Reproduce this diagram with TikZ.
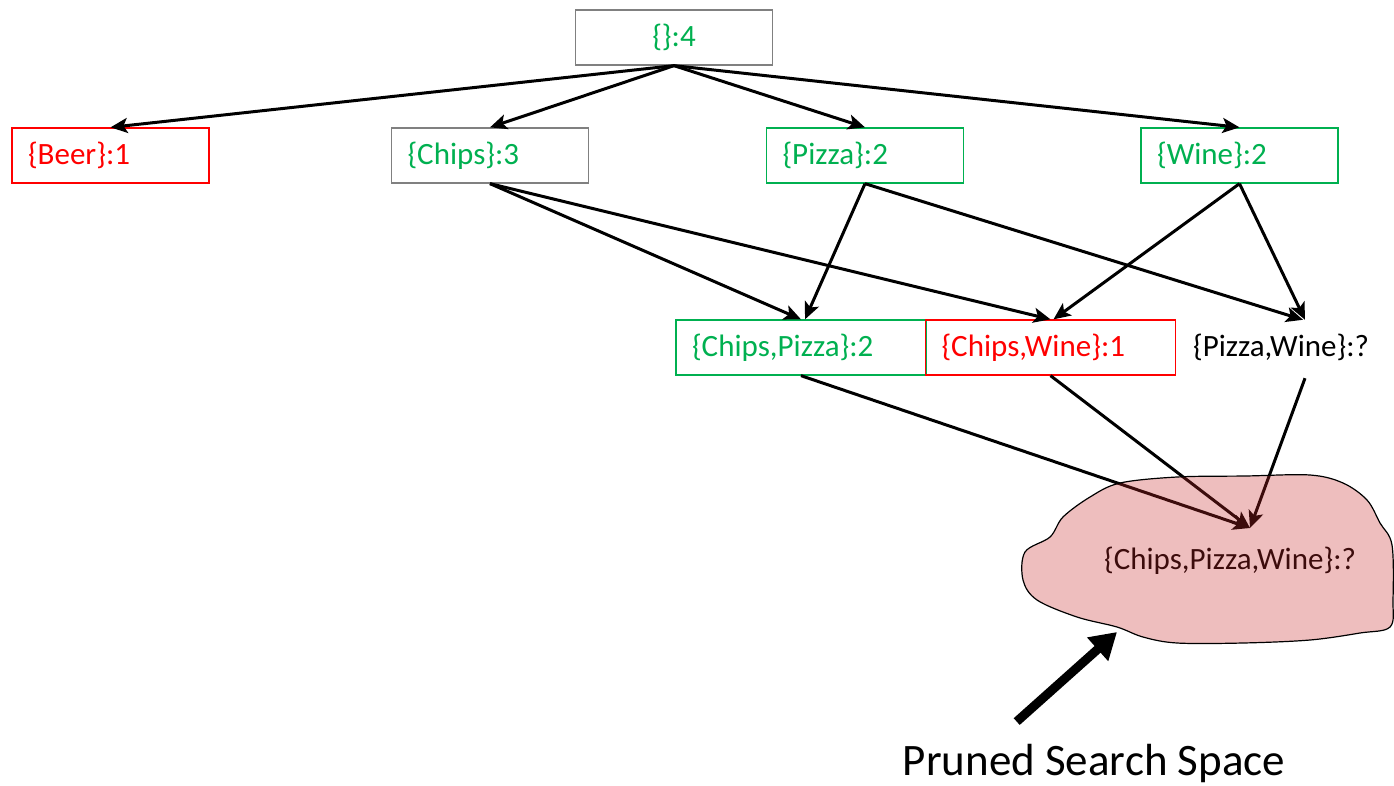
\documentclass[tikz,border=0pt]{standalone}
\usepackage{fontspec}
\setmainfont{Carlito}
\usetikzlibrary{arrows.meta,calc}
\definecolor{okgreen}{RGB}{0,176,80}
\definecolor{badred}{RGB}{255,0,0}
\definecolor{boxgray}{RGB}{128,128,128}
\definecolor{blobred}{RGB}{200,40,40}
\begin{document}
\begin{tikzpicture}[x=1pt,y=-1pt,
  itembox/.style={draw, line width=1.3pt, minimum width=197pt, minimum height=55pt,
    inner xsep=16pt, text width=165pt, align=left, font=\fontsize{31}{37}\selectfont},
  pairbox/.style={itembox, minimum width=250pt, text width=218pt},
  plain/.style={font=\fontsize{31}{37}\selectfont, inner sep=0pt},
  edge/.style={line width=3pt, -{Stealth[length=17pt,width=15pt,inset=4pt]}}]
\useasboundingbox (0,0) rectangle (1394,785);

% lattice nodes
\node[itembox, draw=boxgray, text=okgreen, align=center] (root) at (674,37.5) {\{\}:4};
\node[itembox, draw=badred, text=badred] (beer) at (110.5,155.5) {\{Beer\}:1};
\node[itembox, draw=boxgray, text=okgreen] (chips) at (490,155.5) {\{Chips\}:3};
\node[itembox, draw=okgreen, text=okgreen] (pizza) at (865,155.5) {\{Pizza\}:2};
\node[itembox, draw=okgreen, text=okgreen] (wine) at (1239.5,155.5) {\{Wine\}:2};
\node[pairbox, draw=okgreen, text=okgreen] (cp) at (801,347.5) {\{Chips,Pizza\}:2};
\node[pairbox, draw=badred, text=badred] (cw) at (1050.5,347.5) {\{Chips,Wine\}:1};
\node[plain, minimum height=55pt] (pw) at (1281,347.5) {\{Pizza,Wine\}:?};
\node[plain] (cpw) at (1230,561) {\{Chips,Pizza,Wine\}:?};
\coordinate (tgt) at (1250,528);

% edges of the itemset lattice
\draw[edge] (root.south) -- (beer.north);
\draw[edge] (root.south) -- (chips.north);
\draw[edge] (root.south) -- (pizza.north);
\draw[edge] (root.south) -- (wine.north);
\draw[edge] (chips.south) -- (cp.north);
\draw[edge] (chips.south) -- (cw.north);
\draw[edge] (pizza.south) -- ($(cp.north)+(4,0)$);
\draw[edge] (pizza.south) -- ($(pw.north)+(22,0)$);
\draw[edge] (wine.south) -- ($(cw.north)+(3,0)$);
\draw[edge] (wine.south) -- ($(pw.north)+(24,0)$);
\draw[edge] (cp.south) -- (tgt);
\draw[edge] (cw.south) -- (tgt);
\draw[edge] ($(pw.south)+(24,3)$) -- (tgt);

% pruned region, tinted over what lies beneath
\draw[line width=1.2pt, fill=blobred, fill opacity=0.3, draw opacity=1]
  plot[smooth cycle, tension=0.55] coordinates {
    (1120,483) (1177,477) (1245,476) (1310,475) (1343,483) (1367,500)
    (1380,523) (1392,545) (1393,600) (1390,627) (1360,633) (1310,640)
    (1243,643) (1177,643) (1143,637) (1117,627) (1077,617) (1037,600)
    (1023,580) (1025,552) (1050,537) (1063,517) (1090,497)};

% caption and its pointer
\node[font=\fontsize{45}{54}\selectfont, inner sep=0pt] (cap) at (1094,763) {Pruned Search Space};
\coordinate (blobedge) at (1117,632);
\draw[line width=9pt, -{Triangle[length=26pt,width=30pt]}] ($(cap.north west)+(114,-22)$) -- (blobedge);
\end{tikzpicture}
\end{document}
